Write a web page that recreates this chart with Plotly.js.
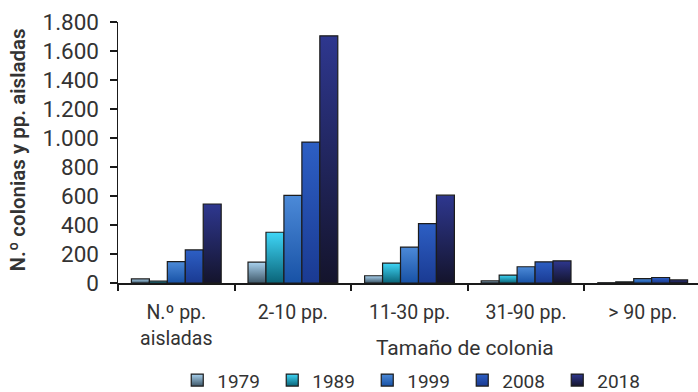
<!DOCTYPE html>
<html>
<head>
<meta charset="utf-8">
<script src="https://cdn.plot.ly/plotly-3.0.1.min.js"></script>
<style>
  html, body { margin: 0; padding: 0; background: #fff; overflow: hidden; }
  #chart { width: 702px; height: 400px; }
</style>
</head>
<body>
<div id="chart"></div>
<script>
// Colony size classes (x categories)
const categories = ['N.º pp.<br>aisladas', '2-10 pp.', '11-30 pp.', '31-90 pp.', '> 90 pp.'];

// Census years
const years = ['1979', '1989', '1999', '2008', '2018'];

// Counts per census year, one value per size class
const values1979 = [28, 144, 50, 14, 2];
const values1989 = [13, 350, 137, 55, 8];
const values1999 = [148, 605, 248, 112, 30];
const values2008 = [228, 972, 410, 146, 38];
const values2018 = [545, 1705, 606, 153, 21];

// Y axis ticks, Spanish thousands separator
const yTickValues = [0, 200, 400, 600, 800, 1000, 1200, 1400, 1600, 1800];
const yTickLabels = ['0', '200', '400', '600', '800', '1.000', '1.200', '1.400', '1.600', '1.800'];

const seriesValues = [values1979, values1989, values1999, values2008, values2018];

// Vertical gradient (top -> bottom) for each year's bars
const gradients = [
  ['#a9d2ef', '#3f5869'],
  ['#3fd6f7', '#0a6478'],
  ['#4c8ad8', '#1852a6'],
  ['#2d5fc4', '#1a3a92'],
  ['#2e378f', '#14142c']
];
const flatColors = ['#7399b8', '#1ea3c4', '#2f6ec2', '#234cae', '#22265c'];

const textColor = '#333333';
const fontFamily = 'Roboto, "Open Sans", sans-serif';

const traces = years.map((yr, i) => ({
  type: 'bar',
  name: yr,
  x: categories,
  y: seriesValues[i],
  marker: { color: flatColors[i], line: { color: '#1c1c1c', width: 1.2 } },
  hoverinfo: 'none'
}));

const layout = {
  width: 702,
  height: 400,
  margin: { l: 118, r: 1, t: 22, b: 115 },
  paper_bgcolor: '#ffffff',
  plot_bgcolor: '#ffffff',
  font: { family: fontFamily, color: textColor },
  barmode: 'group',
  bargap: 0.23,
  bargroupgap: 0,
  showlegend: true,
  legend: {
    orientation: 'h',
    x: 0.509, xanchor: 'center',
    y: -0.3726, yanchor: 'middle',
    font: { size: 19, color: textColor },
    itemwidth: 30,
    entrywidth: 50,
    entrywidthmode: 'pixels',
    traceorder: 'normal'
  },
  xaxis: {
    type: 'category',
    tickson: 'boundaries',
    showline: true, linecolor: '#1a1a1a', linewidth: 2,
    ticks: 'outside', ticklen: 6, tickwidth: 2, tickcolor: '#1a1a1a',
    ticklabelstandoff: 11,
    tickfont: { size: 19.5, color: textColor },
    showgrid: false, zeroline: false,
    fixedrange: true
  },
  yaxis: {
    range: [0, 1800],
    tickvals: yTickValues,
    ticktext: yTickLabels,
    showline: true, linecolor: '#1a1a1a', linewidth: 1.5,
    ticks: 'outside', ticklen: 7, tickwidth: 1.5, tickcolor: '#1a1a1a',
    ticklabelstandoff: 6,
    tickfont: { size: 22.5, color: textColor },
    showgrid: false, zeroline: false,
    fixedrange: true
  },
  annotations: [
    {
      // x axis title
      text: 'Tamaño de colonia',
      xref: 'paper', yref: 'paper',
      x: 0.595, y: -0.25,
      xanchor: 'center', yanchor: 'middle',
      showarrow: false,
      font: { size: 21, color: textColor }
    },
    {
      // y axis title
      text: 'N.º colonias y pp. aisladas',
      xref: 'paper', yref: 'paper',
      x: -0.1715, y: 0.508,
      xanchor: 'center', yanchor: 'middle',
      textangle: -90,
      showarrow: false,
      font: { size: 20.5, color: textColor, weight: 600 }
    }
  ]
};

// Swap flat bar fills for vertical gradients once the SVG exists
function applyGradients(gd) {
  const svg = gd.querySelector('svg.main-svg');
  const ns = 'http://www.w3.org/2000/svg';
  let defs = svg.querySelector('defs');
  if (!defs) { defs = document.createElementNS(ns, 'defs'); svg.insertBefore(defs, svg.firstChild); }
  gradients.forEach((g, i) => {
    const lg = document.createElementNS(ns, 'linearGradient');
    lg.setAttribute('id', 'barGrad' + i);
    lg.setAttribute('x1', '0'); lg.setAttribute('y1', '0');
    lg.setAttribute('x2', '0'); lg.setAttribute('y2', '1');
    [[0, g[0]], [1, g[1]]].forEach(([off, col]) => {
      const st = document.createElementNS(ns, 'stop');
      st.setAttribute('offset', off);
      st.setAttribute('stop-color', col);
      lg.appendChild(st);
    });
    defs.appendChild(lg);
  });
  gd.querySelectorAll('.barlayer .trace').forEach((tr, i) => {
    tr.querySelectorAll('.point path').forEach(p => { p.style.fill = 'url(#barGrad' + i + ')'; });
  });
  gd.querySelectorAll('.legend .traces').forEach((tr, i) => {
    tr.querySelectorAll('.legendpoints path').forEach(p => { p.style.fill = 'url(#barGrad' + i + ')'; });
  });
}

Plotly.newPlot('chart', traces, layout, { displayModeBar: false, staticPlot: true })
  .then(applyGradients);
</script>
</body>
</html>
